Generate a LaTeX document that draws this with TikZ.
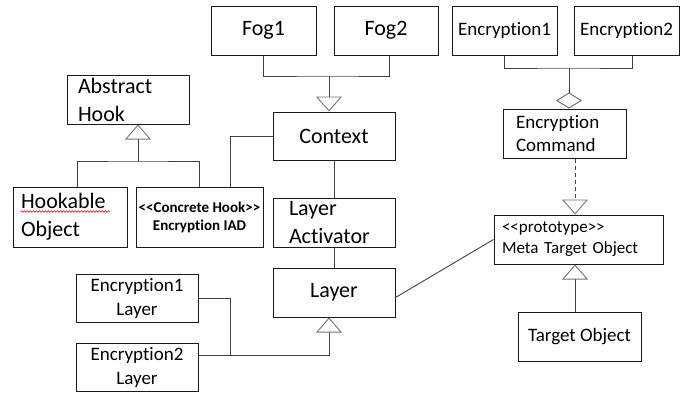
\documentclass[tikz,border=0pt]{standalone}
\usepackage{fontspec}
\setmainfont{Carlito}[Ligatures={NoCommon}]
\usetikzlibrary{arrows.meta,calc,decorations.pathmorphing}

\begin{document}
\begin{tikzpicture}[x=1pt, y=-1pt,
  box/.style={draw=black!90, line width=1pt, inner sep=0pt, minimum height=49pt},
  bigtxt/.style={font=\fontsize{22}{28}\selectfont},
  midtxt/.style={font=\fontsize{19}{24}\selectfont},
  smalltxt/.style={font=\fontsize{17}{21}\selectfont},
  boldtxt/.style={font=\fontsize{15}{18}\selectfont\bfseries},
  link/.style={draw=black!75, line width=0.9pt},
  gen/.style={link, -{Triangle[open, width=26pt, length=15pt, color=black!55]}},
  agg/.style={link, -{Diamond[open, width=26pt, length=16pt, color=black!60]}}]
  %%%%% START %%%%%
  \useasboundingbox (0,0) rectangle (691,392);

  % top row
  \node[box, bigtxt, minimum width=105pt] (fogA) at (263.5,30.5) {Fog1};
  \node[box, bigtxt, minimum width=104pt] (fogB) at (386,30.5) {Fog2};
  \node[box, midtxt, minimum width=105pt] (encA) at (504.5,30.5) {Encryption1};
  \node[box, midtxt, minimum width=105pt] (encB) at (626.5,30.5) {Encryption2};

  % hook side
  \node[box, bigtxt, text width=100pt, inner xsep=11pt, align=left] (absHook) at (128,99.5) {Abstract\\Hook};
  \node[box, bigtxt, text width=98pt, inner xsep=8pt, minimum height=60pt, align=left] (hookObj) at (70,217) {Hookable\\Object};
  \node[box, boldtxt, minimum width=127pt, minimum height=60pt, align=center] (concHook) at (199.5,217) {<\kern0pt<Concrete Hook>\kern0pt>\\Encryption IAD};

  % middle column
  \node[box, bigtxt, minimum width=122pt, minimum height=48pt] (context) at (334,136) {Context};
  \node[box, bigtxt, text width=90pt, inner xsep=16pt, align=left] (layerAct) at (334,222.5) {Layer\\Activator};
  \node[box, bigtxt, minimum width=122pt] (layer) at (334,292.5) {Layer};
  \node[box, midtxt, minimum width=122pt, minimum height=48pt, align=center] (encLayA) at (137,298) {Encryption1\\Layer};
  \node[box, midtxt, minimum width=122pt, minimum height=48pt, align=center] (encLayB) at (137,367) {Encryption2\\Layer};

  % right column
  \node[box, font=\fontsize{19}{23}\selectfont, text width=97pt, inner xsep=13pt, align=left] (encCmd) at (564.5,133.5) {Encryption\\Command};
  \node[box, smalltxt, text width=153pt, inner xsep=8pt, align=left] (metaObj) at (578.5,239.5) {<\kern0pt<prototype>\kern0pt>\\Meta Target Object};
  \node[box, midtxt, minimum width=123pt] (targetObj) at (579.5,336.5) {Target Object};

  % spell check mark
  \draw[red, line width=0.6pt, decorate, decoration={snake, amplitude=0.8pt, segment length=3pt}] ($(hookObj.north west)+(8,25)$) -- ++(89,0);

  % connectors
  \coordinate (fogJ) at (329,76);
  \draw[link] (fogA.south) |- (fogJ) -| ([xshift=3]fogB.south);
  \draw[gen] (fogJ) -- (fogJ |- context.north);

  \coordinate (hookJ) at (138,161);
  \draw[link] ([xshift=7]hookObj.north) |- (hookJ) -| (concHook.north);
  \draw[gen] (hookJ) -- (hookJ |- absHook.south);
  \draw[link] (context.west) -| ([xshift=30.5]concHook.north);

  \draw[link] (context) -- (layerAct);
  \draw[link] (layerAct) -- (layer);

  \coordinate (layJ) at (230,355);
  \draw[link] (encLayA.east) -| (layJ);
  \draw[link] (encLayB.east |- layJ) -- (layJ);
  \draw[gen] (layJ) -| ([xshift=-5]layer.south);
  \draw[link] ([yshift=-5]layer.east) -- (metaObj.west);

  \coordinate (encJ) at (569,68);
  \draw[link] (encA.south) |- (encJ) -| ([xshift=6]encB.south);
  \draw[agg] (encJ) -- (encJ |- encCmd.north);
  \draw[gen, dash pattern=on 4pt off 3pt] ([xshift=10.5]encCmd.south) -- ([xshift=-3.5]metaObj.north);
  \draw[gen] ([xshift=-4.5]targetObj.north) -- ([xshift=-3.5]metaObj.south);
  %%%%% END %%%%%
\end{tikzpicture}
\end{document}
